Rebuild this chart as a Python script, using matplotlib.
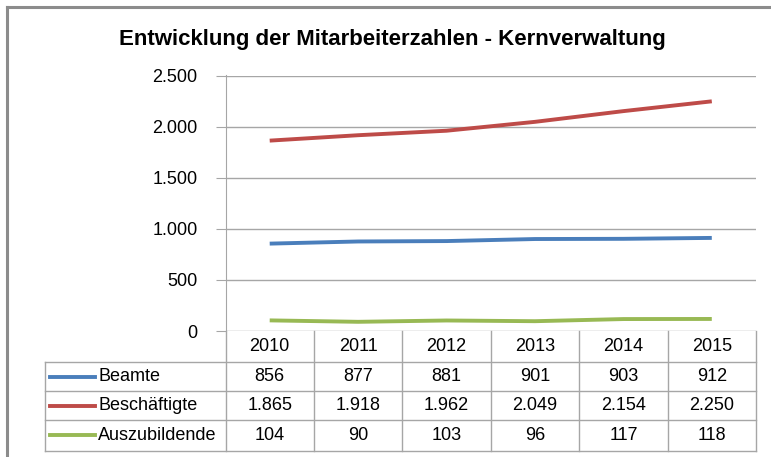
import numpy as np
from matplotlib import pyplot as plt
from matplotlib.lines import Line2D

years = ["2010", "2011", "2012", "2013", "2014", "2015"]
series_names = ["Beamte", "Beschäftigte", "Auszubildende"]
beamte = [856, 877, 881, 901, 903, 912]
beschaeftigte = [1865, 1918, 1962, 2049, 2154, 2250]
azubis = [104, 90, 103, 96, 117, 118]
yticks = [0, 500, 1000, 1500, 2000, 2500]
colors = ["#4A7EBB", "#BE4B48", "#98B954"]

plt.rcParams['font.family'] = ['Liberation Sans', 'DejaVu Sans']

W, H = 771, 457
fig = plt.figure(figsize=(W / 100, H / 100), dpi=100)


def fx(px):
    return px / W


def fy(py):
    return 1 - py / H


def fmt(v):
    return f"{v:,}".replace(",", ".")


# outer frame (only left and top visible)
fig.add_artist(Line2D([fx(6.5), fx(6.5)], [fy(7), fy(460)], color="#8c8c8c", lw=2.2))
fig.add_artist(Line2D([fx(6.5), fx(775)], [fy(7), fy(7)], color="#8c8c8c", lw=2.2))

left, right, top, bottom = 225.5, 756, 75.5, 331
ax = fig.add_axes([fx(left), fy(bottom), fx(right - left), (bottom - top) / H])

x = np.arange(len(years)) + 0.5
data = [beamte, beschaeftigte, azubis]
for vals, c in zip(data, colors):
    ax.plot(x, vals, color=c, lw=2.8, solid_capstyle="butt", zorder=3)

ax.set_xlim(0, len(years))
ax.set_ylim(0, 2503)
ax.set_yticks(yticks)
ax.set_yticklabels([fmt(v) for v in yticks], fontsize=13)
ax.set_xticks([])
for s in ["top", "right", "bottom"]:
    ax.spines[s].set_visible(False)
ax.spines["left"].set_color("#a6a6a6")
ax.tick_params(axis="y", length=7, color="#a6a6a6", pad=13)
ax.grid(axis="y", color="#a6a6a6", lw=1)
ax.set_axisbelow(True)

fig.text(fx(392), fy(40), "Entwicklung der Mitarbeiterzahlen - Kernverwaltung",
         ha="center", va="center", fontsize=16, fontweight="bold")

# data table
gc = "#a6a6a6"
rows = [331, 362, 391, 420, 450.5]
col_w = (right - left) / len(years)
cols = [left + i * col_w for i in range(len(years) + 1)]
leg_left = 45

for cx in cols:
    fig.add_artist(Line2D([fx(cx), fx(cx)], [fy(rows[0]), fy(rows[-1])], color=gc, lw=1))
fig.add_artist(Line2D([fx(leg_left), fx(leg_left)], [fy(rows[1]), fy(rows[-1])], color=gc, lw=1))
for ry in rows[1:]:
    fig.add_artist(Line2D([fx(leg_left), fx(right)], [fy(ry), fy(ry)], color=gc, lw=1))

for i, yr in enumerate(years):
    fig.text(fx(cols[i] + col_w / 2), fy((rows[0] + rows[1]) / 2), yr,
             ha="center", va="center", fontsize=13)

for r, (name, vals, c) in enumerate(zip(series_names, data, colors)):
    cy = (rows[r + 1] + rows[r + 2]) / 2
    fig.add_artist(Line2D([fx(50), fx(95)], [fy(cy), fy(cy)], color=c, lw=2.8))
    fig.text(fx(98), fy(cy), name, ha="left", va="center", fontsize=13)
    for i, v in enumerate(vals):
        fig.text(fx(cols[i] + col_w / 2), fy(cy), fmt(v),
                 ha="center", va="center", fontsize=13)

fig.savefig("out.png", dpi=100)
